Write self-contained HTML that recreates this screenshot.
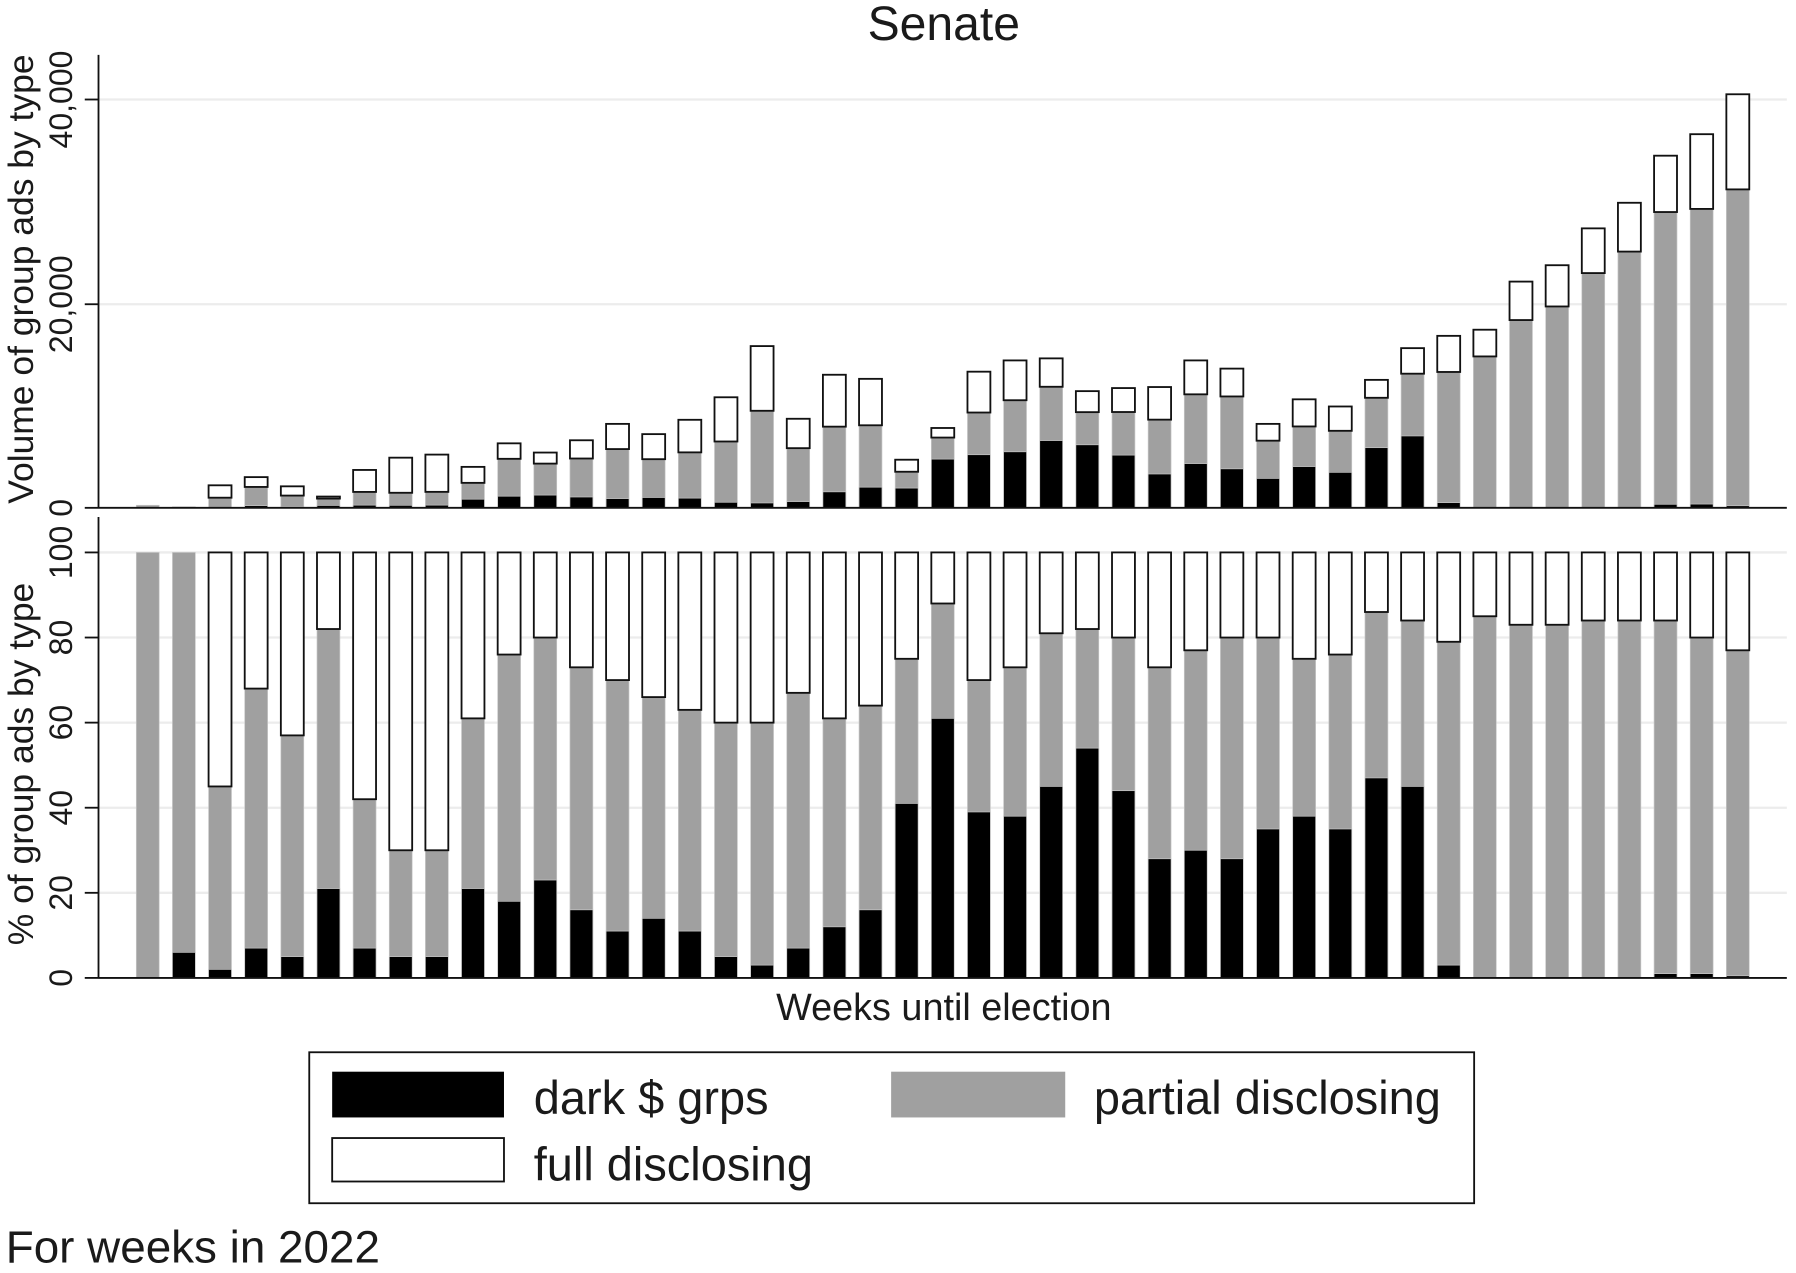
<!DOCTYPE html>
<html><head><meta charset="utf-8"><style>
html,body{margin:0;padding:0;background:#fff;}
svg{display:block;}
text{font-family:"Liberation Sans",Arial,sans-serif;fill:#1a1a1a;}
</style></head><body>
<svg id="s" width="1796" height="1273" viewBox="0 0 1568 1113" preserveAspectRatio="none" xmlns="http://www.w3.org/2000/svg">
<rect width="1568" height="1113" fill="#fff"/>
<text x="824" y="35" font-size="42" text-anchor="middle">Senate</text>
<g stroke="#ececec" stroke-width="2">
<line x1="86" y1="87" x2="1560" y2="87"/><line x1="86" y1="266" x2="1560" y2="266"/>
<line x1="86" y1="483" x2="1560" y2="483"/><line x1="86" y1="557.4" x2="1560" y2="557.4"/><line x1="86" y1="631.8" x2="1560" y2="631.8"/><line x1="86" y1="706.2" x2="1560" y2="706.2"/><line x1="86" y1="780.6" x2="1560" y2="780.6"/>
</g>
<g id="bars"></g>
<g stroke="#111" stroke-width="1.6">
<line x1="86" y1="48" x2="86" y2="444"/><line x1="86" y1="444" x2="1560" y2="444"/>
<line x1="86" y1="452" x2="86" y2="855"/><line x1="86" y1="855" x2="1560" y2="855"/>
<line x1="74" y1="87" x2="86" y2="87"/><line x1="74" y1="266" x2="86" y2="266"/><line x1="74" y1="444" x2="86" y2="444"/>
<line x1="74" y1="483" x2="86" y2="483"/><line x1="74" y1="557.4" x2="86" y2="557.4"/><line x1="74" y1="631.8" x2="86" y2="631.8"/><line x1="74" y1="706.2" x2="86" y2="706.2"/><line x1="74" y1="780.6" x2="86" y2="780.6"/><line x1="74" y1="855" x2="86" y2="855"/>
</g>
<g font-size="28" text-anchor="middle">
<text transform="translate(63,87) rotate(-90)">40,000</text>
<text transform="translate(63,266) rotate(-90)">20,000</text>
<text transform="translate(63,444) rotate(-90)">0</text>
<text transform="translate(63,483) rotate(-90)">100</text>
<text transform="translate(63,557.4) rotate(-90)">80</text>
<text transform="translate(63,631.8) rotate(-90)">60</text>
<text transform="translate(63,706.2) rotate(-90)">40</text>
<text transform="translate(63,780.6) rotate(-90)">20</text>
<text transform="translate(63,855) rotate(-90)">0</text>
</g>
<g font-size="31" text-anchor="middle">
<text transform="translate(29,244) rotate(-90)">Volume of group ads by type</text>
<text transform="translate(29,668) rotate(-90)">% of group ads by type</text>
</g>
<text x="824" y="892" font-size="33" text-anchor="middle">Weeks until election</text>
<rect x="270" y="920" width="1017" height="132" fill="#fff" stroke="#111" stroke-width="1.6"/>
<rect x="290" y="937" width="150" height="40" fill="#000"/>
<rect x="778" y="937" width="152" height="40" fill="#a0a0a0"/>
<rect x="290" y="995" width="150" height="38" fill="#fff" stroke="#111" stroke-width="1.6"/>
<g font-size="41">
<text x="466" y="974">dark $ grps</text>
<text x="955" y="974">partial disclosing</text>
<text x="466" y="1032">full disclosing</text>
</g>
<text x="5" y="1104" font-size="40">For weeks in 2022</text>
</svg>
<script>
var pct=[[0,100],[6,100],[2,45],[7,68],[5,57],[21,82],[7,42],[5,30],[5,30],[21,61],[18,76],[23,80],[16,73],[11,70],[14,66],[11,63],[5,60],[3,60],[7,67],[12,61],[16,64],[41,75],[61,88],[39,70],[38,73],[45,81],[54,82],[44,80],[28,73],[30,77],[28,80],[35,80],[38,75],[35,76],[47,86],[45,84],[3,79],[0,85],[0,83],[0,83],[0,84],[0,84],[1,84],[1,80],[0.5,77]];
var tot=[0.25,0.1,2.2,3.0,2.1,1.1,3.7,4.9,5.2,4.0,6.3,5.4,6.6,8.2,7.2,8.6,10.8,15.8,8.7,13.0,12.6,4.7,7.8,13.3,14.4,14.6,11.4,11.7,11.8,14.4,13.6,8.2,10.6,9.9,12.5,15.6,16.8,17.4,22.1,23.7,27.3,29.8,34.4,36.5,40.4];
var g=document.getElementById('bars'),h='';
function r(x,y1,y2,f,st){if(y2-y1<=0.05)return;h+='<rect x="'+x+'" y="'+y1+'" width="20" height="'+(y2-y1)+'" fill="'+f+'"'+(st?' stroke="#111" stroke-width="1.6"':' stroke="#c8c8c8" stroke-width="0.6"')+'/>';}
for(var i=0;i<45;i++){var cx=129+i*31.55,x=cx-10,d=pct[i][0],c=pct[i][1];
var T=tot[i]*1000,sc=179/20000;var yd=444-T*d/100*sc,yc=444-T*c/100*sc,yt=444-T*sc;
r(x,yc,444,'#a0a0a0');r(x,yd,444,'#000');r(x,yt,yc,'#fff',1);
var pd=855-d*372/100,pc=855-c*372/100;
r(x,pc,855,'#a0a0a0');r(x,pd,855,'#000');r(x,483,pc,'#fff',1);}
g.innerHTML=h;
</script>
</body></html>
